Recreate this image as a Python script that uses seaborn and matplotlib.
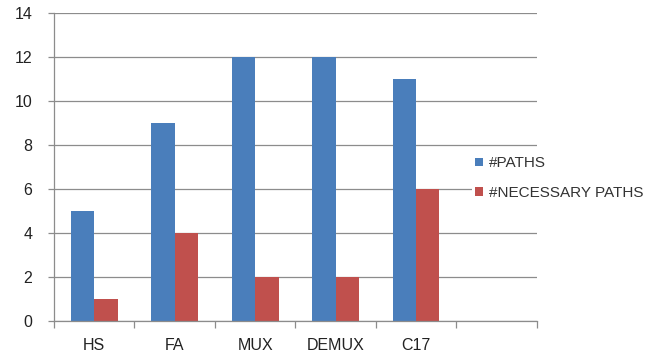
import matplotlib
matplotlib.use("Agg")
import matplotlib.pyplot as plt
import seaborn as sns
import pandas as pd
import numpy as np

categories = ["HS", "FA", "MUX", "DEMUX", "C17"]
paths = [5, 9, 12, 12, 11]
necessary_paths = [1, 4, 2, 2, 6]
series_names = ["#PATHS", "#NECESSARY PATHS"]
y_ticks = [0, 2, 4, 6, 8, 10, 12, 14]

df = pd.DataFrame({
    "cat": categories * 2,
    "value": paths + necessary_paths,
    "series": [series_names[0]] * len(categories) + [series_names[1]] * len(categories),
})

sns.set_style("white")
plt.rcParams['font.family'] = ['Liberation Sans', 'DejaVu Sans']

fig = plt.figure(figsize=(6.49, 3.58), dpi=100)
ax = fig.add_axes([0.0832, 0.1034, 0.744, 0.860])

order = categories + [" "]
sns.barplot(data=df, x="cat", y="value", hue="series", order=order,
            palette=["#4A7EBB", "#C0504D"], width=0.58, ax=ax, saturation=1,
            linewidth=0)

ax.set_xlim(-0.5, len(order) - 0.5)
ax.set_ylim(0, 14)
ax.set_yticks(y_ticks)
ax.yaxis.grid(True, color="#8c8c8c", linewidth=0.9)
ax.set_axisbelow(True)
ax.set_xlabel("")
ax.set_ylabel("")

for s in ["top", "right"]:
    ax.spines[s].set_visible(False)
for s in ["left", "bottom"]:
    ax.spines[s].set_color("#8c8c8c")
    ax.spines[s].set_linewidth(0.9)

ax.set_xticks(range(len(order)))
ax.set_xticklabels(order)
ax.set_xticks(np.arange(-0.5, len(order), 1.0), minor=True)
ax.tick_params(axis="x", which="major", length=0, pad=12, labelsize=11.5, labelcolor="#222222")
ax.tick_params(axis="x", which="minor", length=5, color="#8c8c8c", width=0.9, direction="out", bottom=True)
ax.tick_params(axis="y", length=4.5, color="#8c8c8c", width=0.9, direction="out", pad=11,
               labelsize=11.5, labelcolor="#222222", left=True)

leg = ax.legend(loc="center left", bbox_to_anchor=(472 / 649, 1 - 178 / 358),
                bbox_transform=fig.transFigure, frameon=True, facecolor="white",
                edgecolor="none", framealpha=1.0, fancybox=False,
                fontsize=11, handlelength=0.5, handleheight=0.5, handletextpad=0.4,
                labelspacing=1.0, borderpad=0.2, borderaxespad=0.0)
for t in leg.get_texts():
    t.set_color("#333333")

fig.savefig("out.png", dpi=100)
